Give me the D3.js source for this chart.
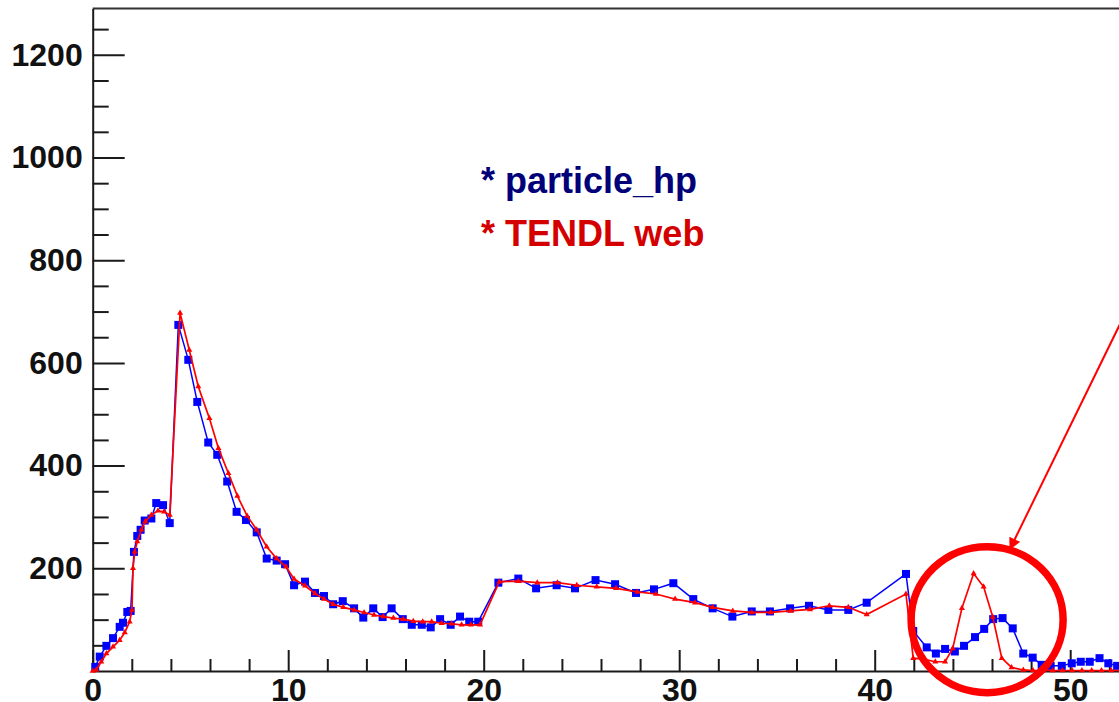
<!DOCTYPE html>
<html>
<head>
<meta charset="utf-8">
<script src="https://cdn.jsdelivr.net/npm/d3@7"></script>
<style>
  html, body { margin: 0; padding: 0; background: #fff; overflow: hidden; }
  #chart { width: 1119px; height: 702px; }
  text { font-family: "Liberation Sans", Arial, sans-serif; font-weight: bold; }
</style>
</head>
<body>
<div id="chart"></div>
<script>
// particle_hp (blue squares)
const hpX = [0.13, 0.36, 0.7, 1.04, 1.38, 1.55, 1.77, 1.94, 2.11, 2.28, 2.45, 2.66, 3.0, 3.25, 3.6, 3.94,
    4.38, 4.89, 5.35, 5.91, 6.37, 6.88, 7.36, 7.84, 8.39, 8.9, 9.41, 9.84, 10.3, 10.86, 11.37, 11.83,
    12.3, 12.79, 13.37, 13.84, 14.35, 14.83, 15.29, 15.86, 16.32, 16.83, 17.29, 17.77, 18.31, 18.79,
    19.26, 19.72, 20.75, 21.77, 22.68, 23.73, 24.67, 25.72, 26.72, 27.79, 28.71, 29.7, 30.72, 31.71,
    32.72, 33.71, 34.64, 35.67, 36.64, 37.63, 38.65, 39.59, 41.6, 41.97, 42.66, 43.13, 43.6, 44.1,
    44.57, 45.13, 45.6, 46.06, 46.54, 47.06, 47.6, 48.08, 48.54, 49.0, 49.57, 50.08, 50.54, 51.0,
    51.5, 51.95, 52.4];
const hpY = [8, 28, 49, 64, 86, 94, 115, 117, 232, 263, 275, 293, 297, 327, 323, 288,
    674, 606, 524, 445, 421, 369, 310, 294, 270, 219, 215, 208, 167, 174, 152, 146,
    130, 136, 122, 104, 122, 105, 122, 101, 90, 90, 85, 101, 90, 106,
    96, 96, 172, 180, 161, 167, 161, 177, 169, 152, 159, 171, 140, 122,
    106, 116, 116, 122, 127, 119, 119, 133, 189, 78, 46, 34, 43, 38,
    49, 66, 82, 101, 103, 83, 34, 26, 12, 10, 10, 15, 18, 18,
    25, 15, 10];

// TENDL web (red)
const tendlX = [0.0, 0.18, 0.44, 0.7, 1.04, 1.38, 1.64, 1.89, 2.01, 2.06, 2.15, 2.28, 2.49, 2.69, 3.0,
    3.34, 3.65, 3.94, 4.47, 4.94, 5.4, 5.97, 6.43, 6.94, 7.4, 7.9, 8.39, 8.9, 9.41, 9.89, 10.3,
    10.86, 11.37, 11.83, 12.3, 12.82, 13.37, 13.88, 14.39, 14.87, 15.38, 15.89, 16.4, 16.88, 17.34,
    17.85, 18.36, 18.87, 19.34, 19.81, 20.8, 21.77, 22.74, 23.77, 24.76, 25.78, 26.77, 27.86, 28.81,
    29.79, 30.81, 31.71, 32.74, 33.71, 34.68, 35.7, 36.69, 37.68, 38.65, 39.59, 41.6, 41.97, 42.5,
    43.1, 43.6, 43.99, 44.46, 45.06, 45.57, 46.04, 46.5, 47.0, 47.6, 48.1, 48.6, 49.1, 49.6, 50.1,
    50.6, 51.1, 51.6, 52.1, 52.6];
const tendlY = [0, 2, 18, 34, 47, 60, 75, 96, 119, 200, 232, 252, 275, 291, 304,
    312, 310, 304, 697, 625, 554, 492, 434, 385, 341, 302, 275, 242, 219, 203, 179,
    166, 151, 140, 130, 124, 119, 114, 109, 106, 103, 101, 97, 96, 96,
    93, 92, 90, 90, 90, 174, 175, 172, 172, 167, 164, 161, 154, 150,
    140, 133, 124, 117, 114, 114, 117, 120, 127, 124, 110, 150, 25, 23,
    18, 18, 44, 122, 190, 164, 105, 25, 7, 2, 1, 1, 1, 1, 1,
    1, 1, 1, 1, 1];

// ticks and legend
const xMajor = [0, 10, 20, 30, 40, 50];
const xMinor = d3.range(2, 56, 2).filter(d => d % 10 !== 0);
const yMajor = [200, 400, 600, 800, 1000, 1200];
const yMinor = d3.range(50, 1300, 50).filter(d => d % 200 !== 0);
const legendLabels = ["* particle_hp", "* TENDL web"];
const legendColors = ["#000078", "#d40000"];

const width = 1119;
const height = 702;

const x = d3.scaleLinear().domain([0, 55]).range([92.7, 92.7 + 55 * 19.55]);
const y = d3.scaleLinear().domain([0, 1290]).range([671, 671 - 1290 * 0.5135]);

const svg = d3.select("#chart")
    .append("svg")
    .attr("width", width)
    .attr("height", height);

const axisColor = "#1a1a1a";
const fmt = d3.format("d");

// frame top line
svg.append("line")
    .attr("x1", x(0)).attr("x2", width + 5)
    .attr("y1", y(1290)).attr("y2", y(1290))
    .attr("stroke", "#333").attr("stroke-width", 2);

// y axis: minor then major ticks (drawn inward)
svg.append("g")
    .attr("transform", `translate(${x(0)},0)`)
    .call(d3.axisLeft(y).tickValues(yMinor).tickSizeInner(-16).tickSizeOuter(0).tickFormat(""))
    .call(g => g.selectAll("line").attr("stroke", axisColor).attr("stroke-width", 2))
    .call(g => g.select(".domain").attr("stroke", axisColor).attr("stroke-width", 2));

svg.append("g")
    .attr("transform", `translate(${x(0)},0)`)
    .call(d3.axisLeft(y).tickValues(yMajor).tickSizeInner(-32).tickSizeOuter(0).tickPadding(10).tickFormat(fmt))
    .call(g => g.select(".domain").remove())
    .call(g => g.selectAll("line").attr("stroke", axisColor).attr("stroke-width", 2))
    .call(g => g.selectAll("text")
        .attr("font-size", 32)
        .attr("font-family", "'Liberation Sans', Arial, sans-serif")
        .attr("font-weight", "bold")
        .attr("fill", "#111"));

// x axis
svg.append("g")
    .attr("transform", `translate(0,${y(0)})`)
    .call(d3.axisBottom(x).tickValues(xMinor).tickSizeInner(-12).tickSizeOuter(0).tickFormat(""))
    .call(g => g.selectAll("line").attr("stroke", axisColor).attr("stroke-width", 2))
    .call(g => g.select(".domain").attr("stroke", axisColor).attr("stroke-width", 2));

svg.append("g")
    .attr("transform", `translate(0,${y(0)})`)
    .call(d3.axisBottom(x).tickValues(xMajor).tickSizeInner(-21).tickSizeOuter(0).tickPadding(7).tickFormat(fmt))
    .call(g => g.select(".domain").remove())
    .call(g => g.selectAll("line").attr("stroke", axisColor).attr("stroke-width", 2))
    .call(g => g.selectAll("text")
        .attr("font-size", 32)
        .attr("font-family", "'Liberation Sans', Arial, sans-serif")
        .attr("font-weight", "bold")
        .attr("fill", "#111"));

// plot
const plot = svg.append("g").attr("id", "plot");

const hp = hpX.map((d, i) => [d, hpY[i]]);
const tendl = tendlX.map((d, i) => [d, tendlY[i]]);

const line = d3.line().x(d => x(d[0])).y(d => y(d[1]));

plot.append("path")
    .datum(hp)
    .attr("fill", "none")
    .attr("stroke", "#0000ff")
    .attr("stroke-width", 1.5)
    .attr("d", line);

plot.selectAll(".hp")
    .data(hp)
    .enter()
    .append("rect")
    .attr("class", "hp")
    .attr("x", d => x(d[0]) - 4)
    .attr("y", d => y(d[1]) - 4)
    .attr("width", 8)
    .attr("height", 8)
    .attr("fill", "#0000ff");

plot.append("path")
    .datum(tendl)
    .attr("fill", "none")
    .attr("stroke", "#ff0000")
    .attr("stroke-width", 1.7)
    .attr("d", line);

plot.selectAll(".tendl")
    .data(tendl)
    .enter()
    .append("path")
    .attr("class", "tendl")
    .attr("transform", d => `translate(${x(d[0])},${y(d[1])})`)
    .attr("d", d3.symbol().type(d3.symbolTriangle).size(16))
    .attr("fill", "#ff0000");

// legend text
svg.selectAll(".legend")
    .data(legendLabels)
    .enter()
    .append("text")
    .attr("class", "legend")
    .attr("x", 481)
    .attr("y", (d, i) => 193 + i * 53)
    .attr("font-size", 36)
    .attr("fill", (d, i) => legendColors[i])
    .text(d => d);

// annotation: circle + arrow
svg.append("defs")
    .append("marker")
    .attr("id", "head")
    .attr("viewBox", "0 0 10 10")
    .attr("refX", 9)
    .attr("refY", 5)
    .attr("markerWidth", 7)
    .attr("markerHeight", 6)
    .attr("markerUnits", "strokeWidth")
    .attr("orient", "auto")
    .append("path")
    .attr("d", "M0,0L10,5L0,10z")
    .attr("fill", "#ff0000");

svg.append("ellipse")
    .attr("cx", x(45.75))
    .attr("cy", y(100))
    .attr("rx", 76)
    .attr("ry", 73)
    .attr("fill", "none")
    .attr("stroke", "#ff0000")
    .attr("stroke-width", 7.5);

svg.append("line")
    .attr("x1", 1122).attr("y1", 320)
    .attr("x2", 1010).attr("y2", 549)
    .attr("stroke", "#ff0000")
    .attr("stroke-width", 2)
    .attr("marker-end", "url(#head)");
</script>
</body>
</html>
